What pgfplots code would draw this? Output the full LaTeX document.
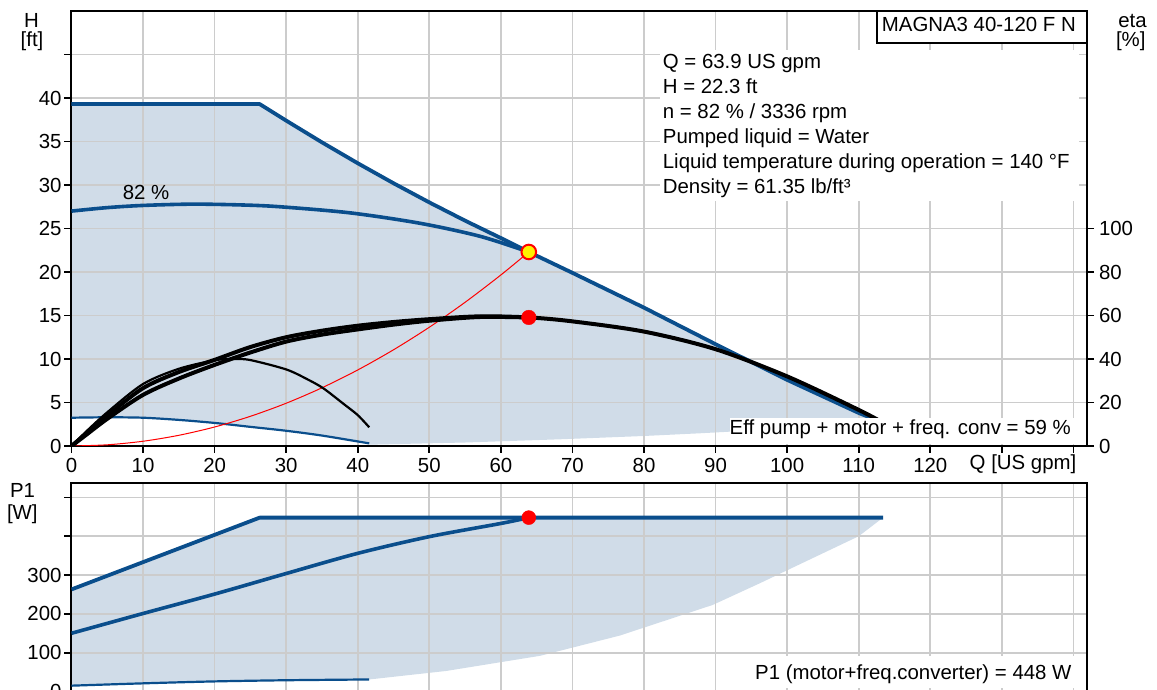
\documentclass[border=0pt]{standalone}
\usepackage{fontspec}
\setmainfont{Liberation Sans}
\usepackage{pgfplots}
\pgfplotsset{compat=1.18}

\definecolor{gfblue}{RGB}{10,78,140}
\definecolor{gffill}{RGB}{208,220,232}
\definecolor{gfgrid}{RGB}{204,204,204}
\newcommand{\chartfont}{\fontsize{20.4}{24.5}\selectfont}

\pgfplotsset{
  pumpbase/.style={
    scale only axis, width=1015.5pt, xmin=0, xmax=141.9, anchor=south west,
  },
  pumpframe/.style={
    pumpbase,
    axis line style={line width=2pt},
    grid=major, major grid style={gfgrid, line width=1.7pt},
    tick style={black, line width=1.7pt}, major tick length=7pt, tick align=outside,
    xtick={0,10,...,140}, xtick pos=left, ytick pos=left,
    tick label style={font=\chartfont},
    yticklabel style={xshift=4pt},
    xticklabel style={yshift=2pt},
  },
}

\begin{document}
\chartfont
\begin{tikzpicture}

% ---------- head curves: band behind the grid ----------
\begin{axis}[pumpbase, at={(71.5pt,244pt)}, height=435pt, ymin=0, ymax=50, hide axis]
\addplot[fill=gffill, draw=none] coordinates {
  (0,39.3) (26.3,39.3) (30,37.4) (35,34.9) (40,32.5) (45,30.2) (50,28.0)
  (55,25.9) (60,23.9) (63.9,22.3) (70,19.9) (80,15.9)
  (90,11.7) (100,7.6) (110,3.8) (113.3,2.7)
  (100,2.0) (87.8,1.46) (80,1.15) (68.3,0.77) (55,0.4) (41.6,0.15)
  (41.6,0.3) (35,1.2) (30,1.75) (25,2.2) (20,2.65) (15,3.0) (10,3.25) (5,3.3) (0,3.25)
} -- cycle;
\end{axis}

% ---------- head curves ----------
\begin{axis}[pumpframe, at={(71.5pt,244pt)}, height=435pt, ymin=0, ymax=50,
  ytick={0,5,...,45}, yticklabels={0,5,10,15,20,25,30,35,40,{}},
  xticklabels={0,10,20,30,40,50,60,70,80,90,100,110,120,{},{}}]
% max curve
\addplot[gfblue, line width=3.8pt, line join=round] coordinates {
  (0,39.3) (26.3,39.3) (30,37.4) (35,34.9) (40,32.5) (45,30.2) (50,28.0)
  (55,25.9) (60,23.9) (63.9,22.3) (70,19.9) (80,15.9)
  (90,11.7) (100,7.6) (110,3.8) (113.3,2.7)
};
% 82 % curve
\addplot[gfblue, line width=3.6pt, smooth] coordinates {
  (0,27.0) (5,27.4) (10,27.65) (17,27.8) (24,27.7) (29.1,27.5) (38.9,26.8)
  (48.7,25.6) (57.1,24.1) (63.9,22.3)
};
% min curve
\addplot[gfblue, line width=2.2pt, smooth] coordinates {
  (0,3.25) (5,3.3) (10,3.25) (15,3.0) (20,2.65) (25,2.2) (30,1.75) (35,1.2) (41.6,0.3)
};
% system curve
\addplot[red, line width=1pt, smooth] coordinates {
  (0,0) (5,0.137) (10,0.546) (15,1.229) (20,2.184) (25,3.413) (30,4.915)
  (35,6.69) (40,8.74) (45,11.06) (50,13.65) (55,16.52) (60,19.66) (63.9,22.3)
};
\addplot[only marks, mark=*, mark size=7.3pt,
  mark options={fill=yellow, draw=red, line width=2pt}] coordinates {(63.9,22.3)};
\end{axis}

% ---------- efficiency ----------
\begin{axis}[pumpbase, at={(71.5pt,244pt)}, height=435pt, ymin=0, ymax=200,
  axis x line=none, axis y line*=right, axis line style={line width=2pt},
  tick style={black, line width=1.7pt}, major tick length=7pt, tick align=outside,
  ytick={0,20,...,100}, yticklabels={0,20,40,60,80,100},
  tick label style={font=\chartfont}, yticklabel style={xshift=-2pt}]
\addplot[black, line width=2.2pt, smooth] coordinates {
  (0,0) (2,6.5) (5,15.5) (10,28.5) (15,35.5) (20,39.4) (22.6,40) (25,39.5)
  (30,35.2) (33,30.6) (35.2,26.5) (38,19.4) (40,14.2) (41.6,8.6)
};
\addplot[black, line width=4pt, smooth] coordinates {
  (0,0) (2,5) (5,12.5) (10,23.5) (15,31) (20,37.3) (25,43) (30,48) (35,51.2)
  (40,53.6) (45,55.8) (50,57.6) (57,59.3) (63.9,59.1)
};
\addplot[black, line width=4pt, smooth] coordinates {
  (0,0) (2,5.5) (5,14) (10,26.6) (15,34) (20,39.6) (25,45.5) (30,50) (35,53)
  (40,55.3) (45,57) (50,58.3) (57,59.6) (63.9,59.1) (70,57.3) (80,52.6)
  (90,44.5) (100,32) (110,16.6) (113.5,10.5)
};
\addplot[only marks, mark=*, mark size=7.3pt, red] coordinates {(63.9,59.1)};
\end{axis}

% ---------- power: band ----------
\begin{axis}[pumpbase, at={(71.5pt,-1.5pt)}, height=208.8pt, ymin=0, ymax=538, hide axis]
\addplot[fill=gffill, draw=none] coordinates {
  (0,263) (26.3,448) (113.4,448) (110,400) (96.2,279) (89.6,223) (76.6,144)
  (65.5,92) (52.4,53) (43.1,34) (41.6,31) (30,29) (20,26) (10,21) (0,15)
} -- cycle;
\end{axis}

% ---------- power ----------
\begin{axis}[pumpframe, at={(71.5pt,-1.5pt)}, height=208.8pt, ymin=0, ymax=538,
  ytick={0,100,...,500}, yticklabels={0,100,200,300,{},{}},
  xticklabels={}]
\addplot[gfblue, line width=3.8pt, line join=round] coordinates {
  (0,263) (26.3,448) (113.4,448)
};
\addplot[gfblue, line width=3.6pt, smooth] coordinates {
  (0,150) (10,201) (20,251) (30,304) (40,356) (50,399) (60,433) (63.9,448)
};
\addplot[gfblue, line width=2.2pt, smooth] coordinates {
  (0,15) (10,21) (20,26) (30,29) (41.6,31)
};
\addplot[only marks, mark=*, mark size=7pt, red] coordinates {(63.9,448)};
\end{axis}

% ---------- text ----------
\fill[white] (660pt,489pt) rectangle (1079pt,640pt);
\node[anchor=base west, inner sep=0pt] at (662.7pt,621.7pt) {Q = 63.9 US gpm};
\node[anchor=base west, inner sep=0pt] at (662.7pt,596.7pt) {H = 22.3 ft};
\node[anchor=base west, inner sep=0pt] at (662.7pt,571.7pt) {n = 82 \% / 3336 rpm};
\node[anchor=base west, inner sep=0pt] at (662.7pt,546.7pt) {Pumped liquid = Water};
\node[anchor=base west, inner sep=0pt] at (662.7pt,521.7pt) {Liquid temperature during operation = 140 °F};
\node[anchor=base west, inner sep=0pt] at (662.7pt,496.7pt) {Density = 61.35 lb/ft³};

\filldraw[fill=white, draw=black, line width=1.3pt] (877pt,647pt) rectangle (1087pt,679pt);
\node[anchor=base west, inner sep=0pt] at (881.7pt,658.3pt) {MAGNA3 40-120 F N};

\fill[white] (730pt,246pt) rectangle (1079pt,272pt);
\node[anchor=base east, inner sep=0pt] at (1071pt,255pt) {Eff pump + motor + freq. conv = 59 \%};

\fill[white] (752pt,2pt) rectangle (1079pt,34pt);
\node[anchor=base east, inner sep=0pt] at (1071.7pt,10.7pt) {P1 (motor+freq.converter) = 448 W};

\node[anchor=base west, inner sep=0pt] at (122.7pt,490.7pt) {82 \%};
\node[anchor=base, inner sep=0pt] at (1023pt,220.7pt) {Q [US gpm]};

\node[anchor=base, inner sep=0pt] at (31.5pt,662.2pt) {H};
\node[anchor=base, inner sep=0pt] at (32pt,643.3pt) {[ft]};
\node[anchor=base, inner sep=0pt] at (1132.5pt,662.2pt) {eta};
\node[anchor=base, inner sep=0pt] at (1130.8pt,643.3pt) {[\%]};
\node[anchor=base, inner sep=0pt] at (22.5pt,192.2pt) {P1};
\node[anchor=base, inner sep=0pt] at (22.3pt,170.5pt) {[W]};

\pgfresetboundingbox
\path[use as bounding box] (0,0) rectangle (1157pt,690pt);
\end{tikzpicture}
\end{document}
